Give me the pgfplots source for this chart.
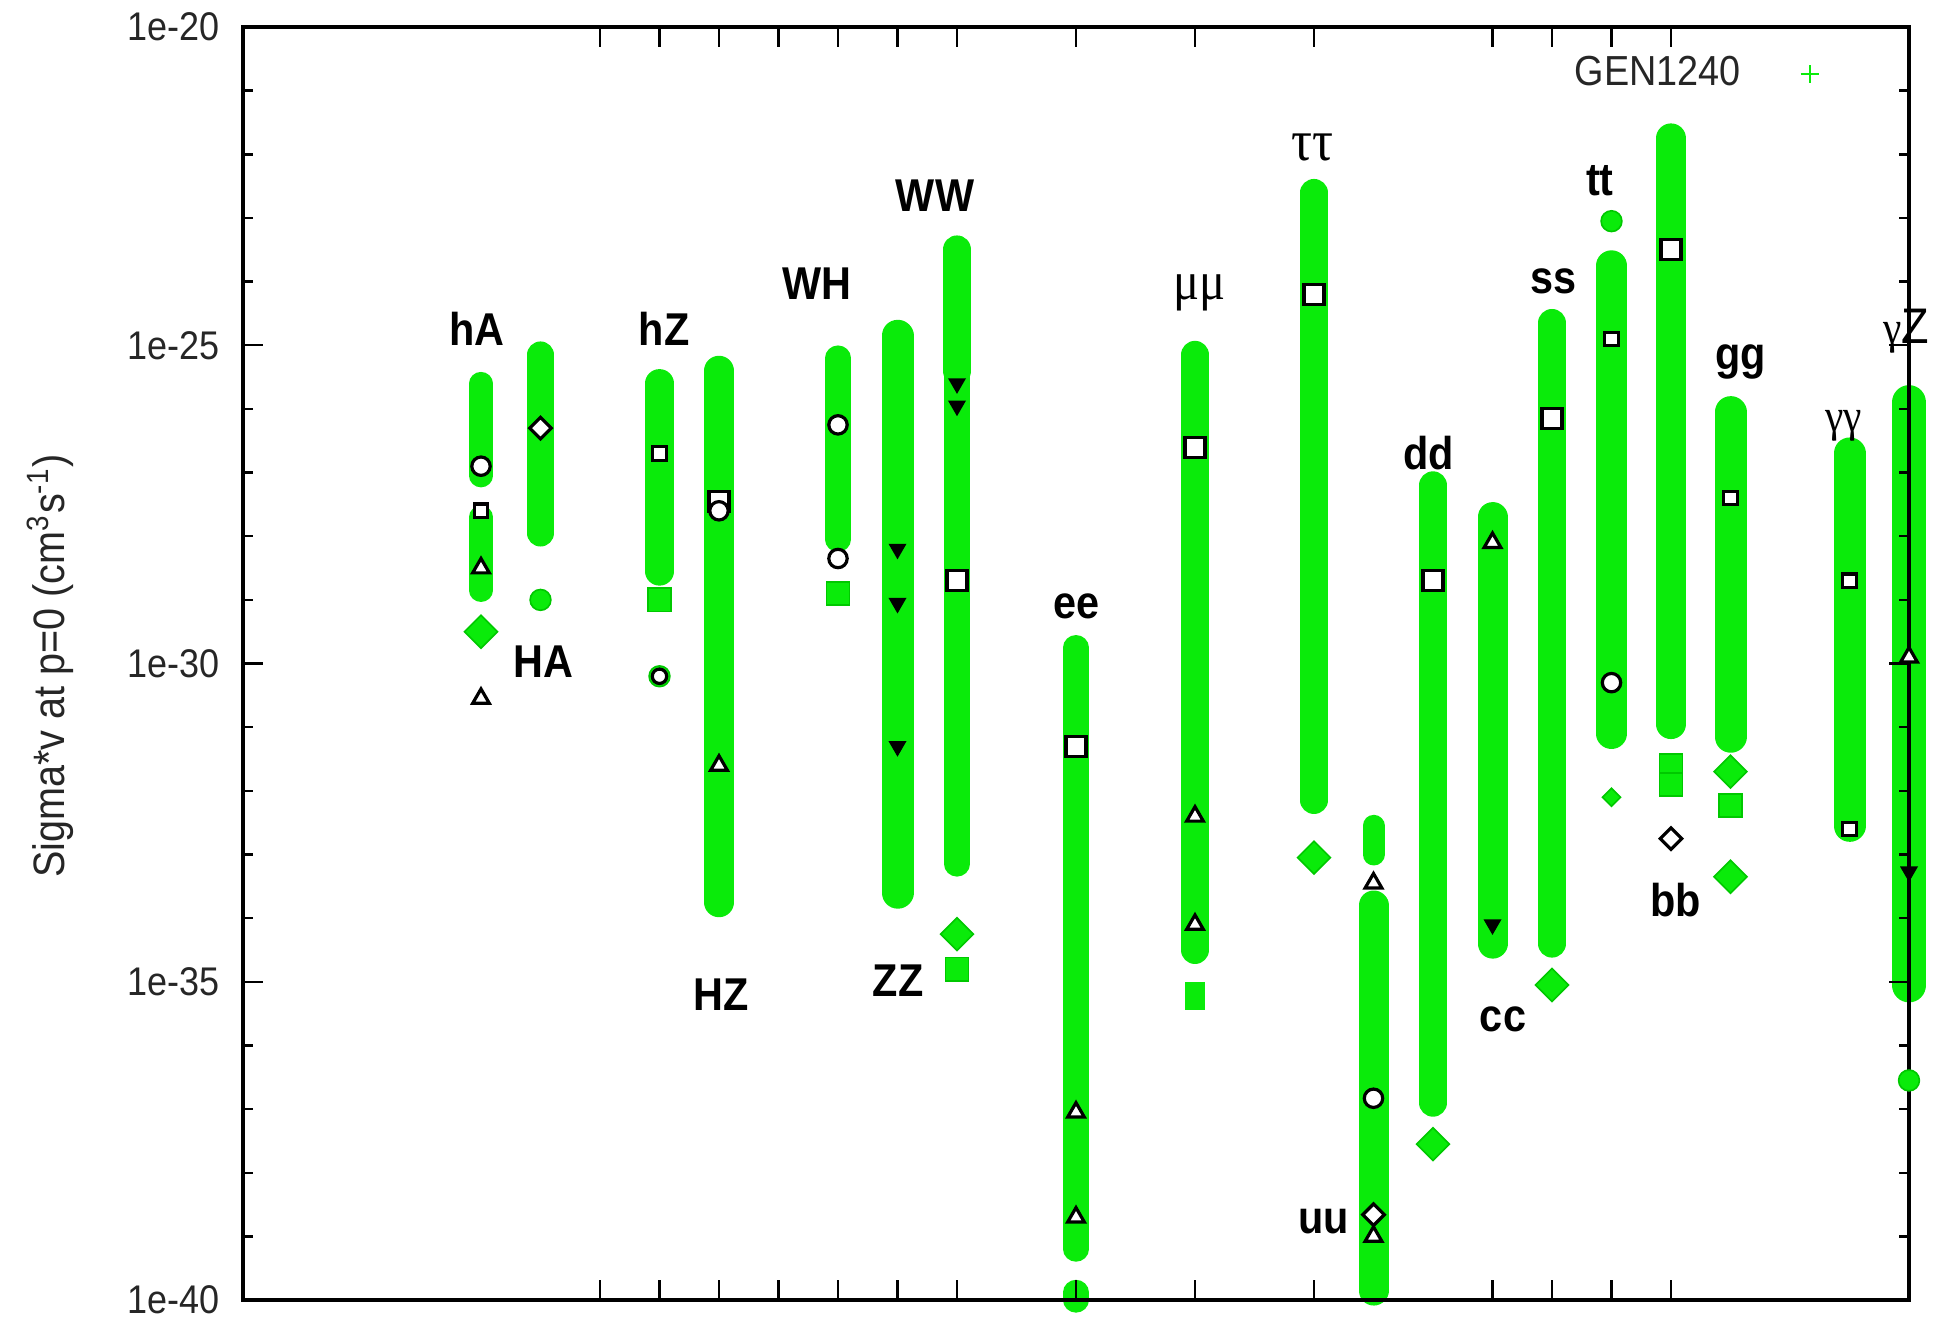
\documentclass[border=0pt]{standalone}
\usepackage{fontspec}
\setmainfont{Liberation Sans}[FakeStretch=0.9]
\newfontfamily\grk{Liberation Serif}[FakeStretch=0.9]
\usepackage{pgfplots}
\pgfplotsset{compat=1.18}
\definecolor{gr}{RGB}{10,235,10}
\definecolor{grd}{RGB}{0,200,0}
\pgfplotsset{
  band/.style={draw=gr, line width=#1, line cap=round, mark=none, forget plot},
  bandb/.style={draw=gr, line width=#1, line cap=butt, mark=none, forget plot},
  gm/.style={only marks, forget plot, mark options={fill=gr, draw=grd, line width=0.4pt, solid}},
  gd/.style={only marks, forget plot, mark=square*, mark options={fill=gr, draw=grd, line width=0.4pt, solid, rotate=45}},
  bm/.style={only marks, forget plot, mark options={fill=white, draw=black, line width=0.8pt, solid}},
  bd/.style={only marks, forget plot, mark=square*, mark options={fill=white, draw=black, line width=0.8pt, solid, rotate=45}},
}
\tikzset{
  lab/.style={font=\fontsize{11.5}{13}\selectfont\bfseries, text=black, anchor=base, inner sep=0pt},
  glab/.style={font=\grk\fontsize{#1}{15}\selectfont, text=black, anchor=base, inner sep=0pt},
}
\begin{document}
\begin{tikzpicture}
\begin{axis}[
  at={(0,0)}, anchor=south west,
  scale only axis, width=416.5pt, height=318.25pt,
  xmin=0, xmax=28,
  ymode=log, ymin=1e-40, ymax=1e-20,
  axis on top, clip=false,
  xtick={6,7,8,9,10,11,12,14,16,18,21,22,23,24},
  xticklabels={},
  ytick={1e-40,1e-35,1e-30,1e-25,1e-20},
  yticklabels={1e-40,1e-35,1e-30,1e-25,1e-20},
  minor ytick={1e-39,1e-38,1e-37,1e-36,1e-34,1e-33,1e-32,1e-31,1e-29,1e-28,1e-27,1e-26,1e-24,1e-23,1e-22,1e-21},
  tick align=inside,
  major tick length=5pt, minor tick length=2.5pt,
  tick style={black, line width=0.6pt},
  axis line style={black, line width=0.8pt},
  yticklabel style={font=\fontsize{10}{12}\selectfont, text=black!85, xshift=-2.4pt},
  ylabel={Sigma*v at p=0 (cm\textsuperscript{3}s\textsuperscript{-1})},
  ylabel style={at={(axis description cs:-0.1158,0.498)}, anchor=center, font=\fontsize{11}{13}\selectfont, text=black!85},
  legend plot pos=right,
  legend style={at={(axis description cs:0.9537,0.99)}, anchor=north east, draw=none, fill=none,
     font=\fontsize{10.5}{12}\selectfont, text=black!85, column sep=13pt},
]
\addlegendimage{only marks, mark=+, gr, mark size=2.3pt}
\addlegendentry{GEN1240}

% ---- bands (centre of first and last point of each dense run)
% hA
\addplot[band=5.8pt] coordinates {(4,2.51e-26) (4,8.91e-28)};
\addplot[band=5.8pt] coordinates {(4,2.0e-28) (4,1.41e-29)};
% HA
\addplot[band=6.7pt] coordinates {(5,7.08e-26) (5,1.12e-28)};
% hZ
\addplot[band=7.2pt] coordinates {(7,2.51e-26) (7,2.82e-29)};
% HZ
\addplot[band=7.5pt] coordinates {(8,3.98e-26) (8,1.78e-34)};
% WH
\addplot[band=6.3pt] coordinates {(10,6.31e-26) (10,8.91e-29)};
% ZZ
\addplot[band=8pt] coordinates {(11,1.41e-25) (11,2.51e-34)};
% WW
\addplot[band=7.2pt] coordinates {(12,3.16e-24) (12,3.98e-26)};
\addplot[band=6.3pt] coordinates {(12,6.31e-26) (12,7.08e-34)};
% ee
\addplot[band=6.3pt] coordinates {(14,1.78e-30) (14,6.31e-40)};
\addplot[band=6.3pt] coordinates {(14,1.32e-40) (14,1.0e-40)};
% mumu
\addplot[band=7pt] coordinates {(16,7.08e-26) (16,3.16e-35)};
\addplot[bandb=5pt] coordinates {(16,1.0e-35) (16,3.55e-36)};
% tautau
\addplot[band=6.8pt] coordinates {(18,2.51e-23) (18,7.08e-33)};
% uu
\addplot[band=5.5pt] coordinates {(19,2.82e-33) (19,1.0e-33)};
\addplot[band=7.5pt] coordinates {(19,1.58e-34) (19,1.41e-40)};
% dd
\addplot[band=7pt] coordinates {(20,6.31e-28) (20,1.26e-37)};
% cc
\addplot[band=7.5pt] coordinates {(21,2.0e-28) (21,3.98e-35)};
% ss
\addplot[band=7pt] coordinates {(22,2.24e-25) (22,3.98e-35)};
% tt
\addplot[band=7.7pt] coordinates {(23,1.78e-24) (23,7.94e-32)};
% bb
\addplot[band=7.5pt] coordinates {(24,1.78e-22) (24,1.12e-31)};
% gg
\addplot[band=8pt] coordinates {(25,8.91e-27) (25,7.08e-32)};
% gamma gamma
\addplot[band=8pt] coordinates {(27,2.0e-27) (27,2.82e-33)};
% gamma Z
\addplot[band=8.7pt] coordinates {(28,1.26e-26) (28,8.91e-36)};

% ---- isolated green points
\addplot[gd, mark size=2.9pt] coordinates {(4,3.16e-30) (12,5.62e-35) (18,8.91e-34) (20,2.82e-38) (22,8.91e-36) (25,2.0e-32) (25,4.47e-34)};
\addplot[gd, mark size=1.6pt] coordinates {(23,7.94e-33)};
\addplot[gm, mark=*, mark size=2.6pt] coordinates {(5,1.0e-29) (7,6.31e-31) (23,8.91e-24) (28,2.82e-37)};
\addplot[gm, mark=square*, mark size=2.9pt] coordinates {(7,1.0e-29) (10,1.26e-29) (12,1.58e-35) (24,2.51e-32) (24,1.26e-32) (25,5.89e-33)};

% ---- black open markers
\addplot[bm, mark=square*, mark size=2.5pt] coordinates {(12,2.0e-29) (14,5.01e-32) (16,2.51e-27) (18,6.31e-25) (20,2.0e-29) (22,7.08e-27) (24,3.16e-24) (8,3.55e-28)};
\addplot[bm, mark=square*, mark size=1.7pt] coordinates {(23,1.26e-25) (25,3.98e-28) (27,2.0e-29) (27,2.51e-33) (4,2.51e-28) (7,2.0e-27)};
\addplot[bm, mark=*, mark size=2.3pt] coordinates {(4,1.26e-27) (8,2.51e-28) (10,5.62e-27) (10,4.47e-29) (23,5.01e-31) (19,1.48e-37)};
\addplot[bm, mark=*, mark size=1.8pt] coordinates {(7,6.31e-31)};
\addplot[bm, mark=triangle*, mark size=2.4pt] coordinates {(4,3.16e-29) (4,2.82e-31) (8,2.51e-32) (14,8.91e-38) (14,2.0e-39) (16,3.98e-33) (16,7.94e-35) (19,3.55e-34) (19,1.0e-39) (21,7.94e-29) (28,1.26e-30)};
\addplot[bm, mark=triangle*, mark size=2.2pt, mark options={rotate=180}] coordinates {(11,6.31e-29) (11,8.91e-30) (11,5.01e-32) (12,2.51e-26) (12,1.12e-26) (21,7.94e-35) (28,5.37e-34)};
\addplot[bd, mark size=1.9pt] coordinates {(5,5.01e-27) (19,2.19e-39) (24,1.78e-33)};

% ---- channel labels
\node[lab] at (axis description cs:0.1406,0.7502) {hA};
\node[lab] at (axis description cs:0.1804,0.4889) {HA};
\node[lab] at (axis description cs:0.2527,0.7502) {hZ};
\node[lab] at (axis description cs:0.2872,0.2278) {HZ};
\node[lab] at (axis description cs:0.3445,0.7863) {WH};
\node[lab] at (axis description cs:0.4154,0.8547) {WW};
\node[lab] at (axis description cs:0.3932,0.2388) {ZZ};
\node[lab] at (axis description cs:0.5006,0.5350) {ee};
\node[glab=13.5] at (axis description cs:0.5744,0.7863) {μμ};
\node[glab=14.5] at (axis description cs:0.6417,0.8955) {ττ};
\node[lab] at (axis description cs:0.6486,0.0526) {uu};
\node[lab] at (axis description cs:0.7116,0.6528) {dd};
\node[lab] at (axis description cs:0.7563,0.2113) {cc};
\node[lab] at (axis description cs:0.7869,0.7910) {ss};
\node[lab] at (axis description cs:0.8145,0.8680) {tt};
\node[lab] at (axis description cs:0.8599,0.3016) {bb};
\node[lab] at (axis description cs:0.8989,0.7306) {gg};
\node[glab=11.5] at (axis description cs:0.9607,0.6826) {γγ};
\node[glab=11.5] at (axis description cs:0.9982,0.7514) {γ{\fontspec{Liberation Sans}[FakeStretch=0.9]\fontsize{12.5}{13}\selectfont Z}};
\end{axis}
\pgfresetboundingbox
\path[use as bounding box] (-60.75pt,-5.25pt) rectangle (425.75pt,325pt);
\end{tikzpicture}
\end{document}
